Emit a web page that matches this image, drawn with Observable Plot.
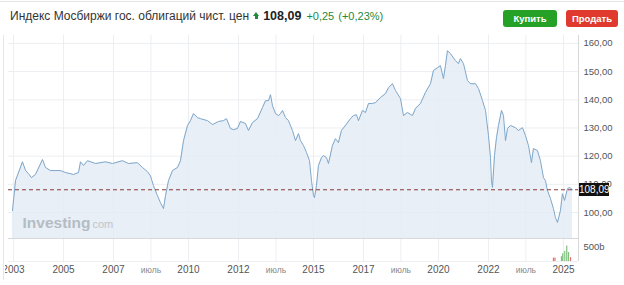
<!DOCTYPE html>
<html><head><meta charset="utf-8">
<script src="https://cdn.jsdelivr.net/npm/d3@7"></script>
<script src="https://cdn.jsdelivr.net/npm/@observablehq/plot@0.6"></script>
<style>
html,body{margin:0;padding:0;background:#fff}
body{width:624px;height:285px;overflow:hidden;position:relative;font-family:"Liberation Sans",Arial,sans-serif}
#topline{position:absolute;left:0;top:1px;width:624px;height:1px;background:#e4e4e4}
#hdr{position:absolute;left:10px;top:8px;height:16px;display:flex;align-items:center;white-space:nowrap}
#title{font-size:12px;color:#333}
#arrow{width:0;height:0;margin:0 3px 0 4px;border-left:3.5px solid transparent;border-right:3.5px solid transparent;border-bottom:4px solid #1d8a3d;position:relative;top:-2px}
#arrow:after{content:"";position:absolute;left:-1.5px;top:4px;width:3px;height:3px;background:#1d8a3d}
#price{font-size:12.5px;font-weight:bold;color:#222;margin-left:1px}
#chg{font-size:11px;color:#1d8a3d;margin-left:5px}
#pct{font-size:11px;color:#1d8a3d;margin-left:4px}
.btn{position:absolute;top:10px;height:17px;line-height:17px;border-radius:3px;color:#fff;font-size:9.5px;font-weight:bold;text-align:center}
#buy{left:503px;width:54px;background:#25a128}
#sell{left:566px;width:52px;background:#e0392d}
#main{position:absolute;left:0;top:35px}
#vol{position:absolute;left:0;top:238px;clip-path:inset(0 0 0 5px)}
#leftline{position:absolute;left:3px;top:35px;width:1px;height:245px;background:#e6e6e6}
#rightline{position:absolute;left:578px;top:35px;width:1px;height:226px;background:#d8d8d8}
#last{position:absolute;left:579px;width:30px;height:13px;line-height:13px;background:#111;color:#fff;font-size:10px;text-align:center}
</style>
</head><body>
<div id="topline"></div>
<div id="hdr"><span id="title">Индекс Мосбиржи гос. облигаций чист. цен</span><span id="arrow"></span><span id="price">108,09</span><span id="chg">+0,25</span><span id="pct">(+0,23%)</span></div>
<div class="btn" id="buy">Купить</div>
<div class="btn" id="sell">Продать</div>
<div id="leftline"></div>
<div id="main"></div>
<div id="vol"></div>
<div id="rightline"></div>
<div id="last"></div>
<script>
// dates as decimal years, values of the index
const dates = [2002.96,2003.08,2003.36,2003.48,2003.60,2003.72,2003.88,2004.16,2004.28,2004.48,2004.88,2005.08,2005.40,2005.60,2005.68,2005.80,2005.96,2006.28,2006.68,2006.96,2007.36,2007.60,2007.96,2008.16,2008.36,2008.48,2008.60,2008.76,2008.88,2009.00,2009.08,2009.20,2009.36,2009.56,2009.68,2009.80,2009.96,2010.08,2010.20,2010.36,2010.48,2010.76,2010.96,2011.20,2011.40,2011.52,2011.68,2011.80,2011.96,2012.08,2012.28,2012.40,2012.56,2012.76,2012.96,2013.08,2013.20,2013.28,2013.36,2013.48,2013.60,2013.68,2013.76,2013.88,2014.00,2014.16,2014.28,2014.40,2014.48,2014.60,2014.72,2014.84,2014.92,2015.00,2015.04,2015.12,2015.20,2015.32,2015.40,2015.52,2015.60,2015.76,2015.88,2016.00,2016.12,2016.28,2016.48,2016.60,2016.72,2016.80,2016.96,2017.08,2017.20,2017.36,2017.48,2017.68,2017.88,2018.00,2018.16,2018.28,2018.48,2018.60,2018.76,2018.96,2019.08,2019.28,2019.48,2019.68,2019.80,2019.96,2020.08,2020.20,2020.28,2020.36,2020.48,2020.68,2020.80,2020.88,2021.00,2021.16,2021.28,2021.48,2021.60,2021.76,2021.88,2022.00,2022.08,2022.12,2022.16,2022.24,2022.32,2022.40,2022.52,2022.60,2022.68,2022.76,2022.88,2023.08,2023.20,2023.36,2023.48,2023.60,2023.72,2023.80,2023.96,2024.08,2024.20,2024.28,2024.36,2024.48,2024.60,2024.68,2024.76,2024.88,2024.96,2025.04,2025.16,2025.24,2025.36];
const values = [100.7,111.3,118.0,115.0,113.8,112.4,113.5,118.8,116.0,114.9,114.9,114.2,113.5,114.2,118.0,116.7,118.4,117.4,118.0,117.4,118.4,117.4,117.7,116.0,114.5,113.0,109.6,106.0,103.5,101.4,106.0,111.3,114.9,116.0,118.4,125.5,130.9,132.6,135.1,133.7,133.3,132.6,131.2,132.3,132.6,133.3,129.8,129.4,129.8,132.3,131.6,129.1,131.9,133.3,137.2,139.7,139.7,141.8,137.9,135.1,134.4,135.1,136.2,133.7,132.6,129.1,125.5,128.0,125.5,123.8,121.3,118.4,111.3,106.0,105.3,109.6,116.7,119.5,120.2,119.5,117.4,123.8,126.2,124.8,129.1,130.9,133.3,134.4,134.7,132.6,136.2,135.5,138.7,138.7,139.0,140.8,142.2,144.3,145.7,143.3,140.4,134.4,135.5,134.4,136.9,138.7,142.6,145.7,150.4,151.4,152.1,147.5,152.1,157.4,156.4,153.9,152.8,154.6,152.8,146.8,145.7,145.7,144.0,139.7,136.2,127.3,119.5,111.3,108.9,120.2,126.6,130.9,136.2,134.4,125.5,129.8,130.9,130.1,129.1,130.1,127.3,123.8,117.7,122.7,122.0,118.4,112.4,111.3,107.8,105.0,101.4,98.2,96.5,100.7,106.7,104.3,108.5,108.9,108.09];
const lastValue = 108.09;

// volume (bars near the end of the series)
const volDates = [2024.60,2024.66,2024.92,2024.97,2025.05,2025.13,2025.20,2025.28];
const volValues = [110,120,160,260,330,520,300,130];
const volUp = [false,false,true,true,true,true,true,false];

// axis ticks
const yTicks = [100,110,120,130,140,150,160];
const yearTicks = [2003,2005,2007,2010,2012,2015,2017,2020,2022,2025];
const julyTicks = [2008,2013,2018,2023];
const julyLabel = "июль";
const volTick = 500;
const volTickLabel = "500b";

const yd = y => { const f = Math.floor(y); return new Date(Date.UTC(f,0,1) + (y-f)*365.25*864e5); };
const data = dates.map((d,i) => ({date: yd(d), value: values[i]}));
const vol = volDates.map((d,i) => ({date: yd(d), v: volValues[i], up: volUp[i]}));
const yearDates = yearTicks.map(y => new Date(Date.UTC(y,0,1)));
const julyDates = julyTicks.map(y => new Date(Date.UTC(y,6,1)));
const allX = yearDates.concat(julyDates);
const xDomain = [yd(2002.8), yd(2025.6)];
const font = '"Liberation Sans", Arial, sans-serif';
const fmt = d => d.toFixed(2).replace(".", ",");

const main = Plot.plot({
  width: 624, height: 203,
  marginLeft: 8, marginRight: 46, marginTop: 0, marginBottom: 0,
  x: {type: "utc", domain: xDomain, axis: null},
  y: {domain: [90.8, 162.8], axis: null},
  style: {background: "transparent", fontFamily: font, fontSize: "9.5px", color: "#555"},
  marks: [
    Plot.gridY(yTicks, {stroke: "#eceef1", strokeOpacity: 1}),
    Plot.gridX(allX, {stroke: "#eceef1", strokeOpacity: 1}),
    Plot.areaY(data, {x: "date", y: "value", fill: "#e4ecf4", fillOpacity: 0.85, clip: true}),
    Plot.lineY(data, {x: "date", y: "value", stroke: "#7ea6c9", strokeWidth: 1}),
    Plot.text(["Investing"], {frameAnchor: "bottom-left", dx: 14, dy: -11, fontSize: 15.5, fontWeight: "bold", fill: "#b5bcc4", textAnchor: "start", fontFamily: font}),
    Plot.text(["com"], {frameAnchor: "bottom-left", dx: 84, dy: -11, fontSize: 11, fill: "#bfc5cb", textAnchor: "start", fontFamily: font}),
    Plot.ruleY([lastValue], {stroke: "#8a3a3a", strokeDasharray: "4,3", strokeWidth: 1}),
    Plot.axisY(yTicks, {anchor: "right", label: null, tickSize: 0, tickPadding: 5, tickFormat: fmt, fill: "#555"})
  ]
});
document.getElementById("main").appendChild(main);

const lastY = main.scale("y").apply(lastValue);
const lb = document.getElementById("last");
lb.textContent = fmt(lastValue);
lb.style.top = (35 + lastY - 6.5) + "px";

const volPlot = Plot.plot({
  width: 624, height: 47,
  marginLeft: 8, marginRight: 46, marginTop: 0, marginBottom: 24,
  x: {type: "utc", domain: xDomain, axis: null},
  y: {domain: [0, 767], axis: null},
  style: {background: "transparent", fontFamily: font, fontSize: "9.5px", color: "#555"},
  marks: [
    Plot.gridX(allX, {stroke: "#eceef1", strokeOpacity: 1}),
    Plot.ruleY([767], {stroke: "#d6d9dc"}),
    Plot.ruleY([0], {stroke: "#eceef1"}),
    Plot.ruleX(vol, {x: "date", y1: 0, y2: "v", stroke: d => d.up ? "#7fbf7f" : "#e07070", strokeWidth: 1.2}),
    Plot.axisY([volTick], {anchor: "right", label: null, tickSize: 0, tickPadding: 5, tickFormat: () => volTickLabel, fill: "#555"}),
    Plot.axisX(yearDates, {anchor: "bottom", label: null, tickSize: 0, tickPadding: 4, tickFormat: d => String(d.getUTCFullYear()), fill: "#555", fontSize: 10}),
    Plot.axisX(julyDates, {anchor: "bottom", label: null, tickSize: 0, tickPadding: 5, tickFormat: () => julyLabel, fill: "#8a8a8a", fontSize: 8.5})
  ]
});
document.getElementById("vol").appendChild(volPlot);
</script>
</body></html>
